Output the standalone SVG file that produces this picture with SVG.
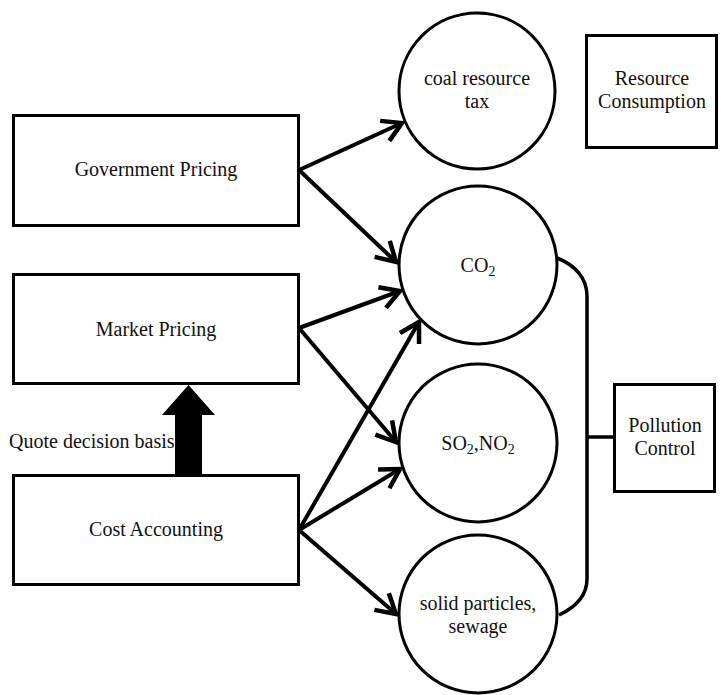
<svg xmlns="http://www.w3.org/2000/svg" width="721" height="695" viewBox="0 0 721 695">
<style>
  .box { fill: #fff; stroke: #000; stroke-width: 3; }
  .node { fill: #fff; stroke: #000; stroke-width: 3; }
  .lbl { font-family: "Liberation Serif", "Times New Roman", serif; font-size: 20px; fill: #111; text-anchor: middle; }
  .sub { font-size: 14px; }
  .edge { stroke: #000; stroke-width: 4; fill: none; marker-end: url(#chev); }
  .brace { stroke: #000; stroke-width: 3.5; fill: none; }
</style>
<defs>
  <marker id="chev" markerUnits="userSpaceOnUse" viewBox="-24 -14 28 28" refX="0" refY="0" markerWidth="28" markerHeight="28" orient="auto">
    <path d="M-19,-11 L0,0 L-19,11" fill="none" stroke="#000" stroke-width="4.5"/>
  </marker>
</defs>
<rect width="721" height="695" fill="#fff"/>

<g id="connectors">
  <line class="edge" x1="299" y1="170" x2="402" y2="123"/>
  <line class="edge" x1="299" y1="170" x2="396" y2="262"/>
  <line class="edge" x1="299" y1="328" x2="400" y2="291"/>
  <line class="edge" x1="299" y1="328" x2="396" y2="442"/>
  <line class="edge" x1="299" y1="530" x2="419" y2="322"/>
  <line class="edge" x1="299" y1="530" x2="400" y2="469"/>
  <line class="edge" x1="299" y1="530" x2="396" y2="614"/>
  <path class="brace" d="M557,258 C575,265 587,278 587,296 L587,579 C587,596 576,607 559,615 M587,437 L613,437"/>
  <polygon points="175,476 175,415 162,415 188.5,385 215,415 202,415 202,476" fill="#000"/>
</g>

<g id="gov-pricing">
  <rect class="box" x="13.5" y="115.5" width="285" height="110"/>
  <text class="lbl" x="156" y="176">Government Pricing</text>
</g>
<g id="market-pricing">
  <rect class="box" x="13.5" y="274.5" width="285" height="109"/>
  <text class="lbl" x="156" y="336">Market Pricing</text>
</g>
<g id="cost-accounting">
  <rect class="box" x="13.5" y="475.5" width="285" height="109"/>
  <text class="lbl" x="156" y="536">Cost Accounting</text>
</g>
<g id="quote-label">
  <text class="lbl" x="9" y="448" style="text-anchor:start">Quote decision basis</text>
</g>
<g id="coal-tax">
  <circle class="node" cx="477" cy="91" r="78"/>
  <text class="lbl" x="477" y="85">coal resource</text>
  <text class="lbl" x="477" y="108">tax</text>
</g>
<g id="co2">
  <circle class="node" cx="478" cy="265" r="79"/>
  <text class="lbl" x="478" y="272">CO<tspan class="sub" dy="4">2</tspan></text>
</g>
<g id="so2-no2">
  <circle class="node" cx="478" cy="443" r="79"/>
  <text class="lbl" x="478" y="450">SO<tspan class="sub" dy="4">2</tspan><tspan dy="-4">,NO</tspan><tspan class="sub" dy="4">2</tspan></text>
</g>
<g id="solid-particles">
  <circle class="node" cx="478" cy="614" r="79"/>
  <text class="lbl" x="478" y="610">solid particles,</text>
  <text class="lbl" x="478" y="633">sewage</text>
</g>
<g id="resource-consumption">
  <rect class="box" x="586.5" y="35.5" width="130" height="112"/>
  <text class="lbl" x="652" y="85">Resource</text>
  <text class="lbl" x="652" y="108">Consumption</text>
</g>
<g id="pollution-control">
  <rect class="box" x="614.5" y="384.5" width="100" height="107"/>
  <text class="lbl" x="665" y="432">Pollution</text>
  <text class="lbl" x="665" y="455">Control</text>
</g>
</svg>
